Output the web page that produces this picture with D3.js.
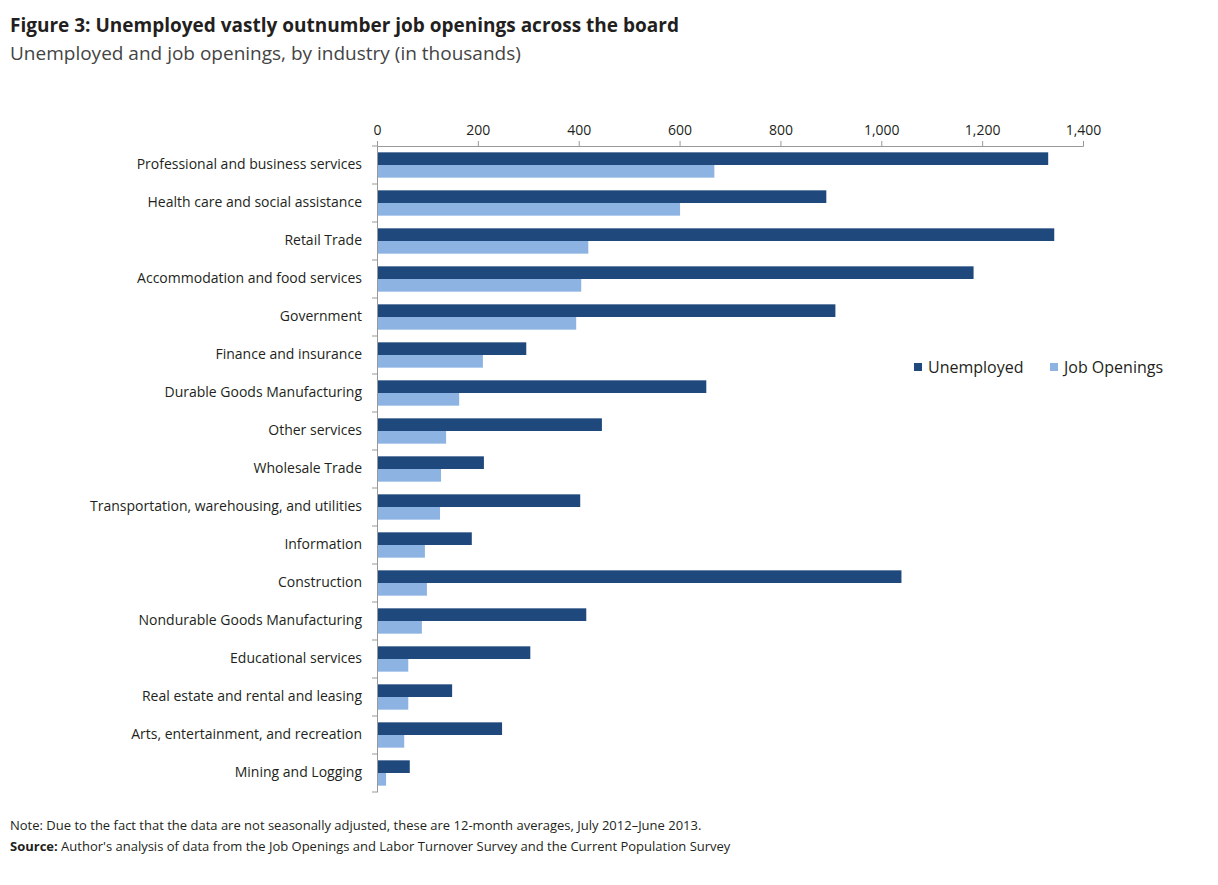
<!DOCTYPE html>
<html>
<head>
<meta charset="utf-8">
<script src="https://cdn.jsdelivr.net/npm/d3@7"></script>
<style>
  body { margin: 0; background: #fff; }
  text { font-family: "Open Sans", "Noto Sans", sans-serif; fill: #231f20; }
</style>
</head>
<body>
<div id="chart"></div>
<script>
var categories = ["Professional and business services", "Health care and social assistance", "Retail Trade",
  "Accommodation and food services", "Government", "Finance and insurance", "Durable Goods Manufacturing",
  "Other services", "Wholesale Trade", "Transportation, warehousing, and utilities", "Information",
  "Construction", "Nondurable Goods Manufacturing", "Educational services", "Real estate and rental and leasing",
  "Arts, entertainment, and recreation", "Mining and Logging"];
var unemployed = [1331, 891, 1343, 1183, 909, 296, 653, 446, 212, 403, 188, 1040, 415, 304, 149, 248, 65];
var openings = [669, 601, 419, 405, 395, 210, 163, 137, 127, 125, 95, 99, 89, 62, 62, 54, 18];
var ticks = [0, 200, 400, 600, 800, 1000, 1200, 1400];
var series = [
  { name: "Unemployed", values: unemployed, color: "#1f497d" },
  { name: "Job Openings", values: openings, color: "#8db3e2" }
];

var svg = d3.select("#chart").append("svg")
  .attr("width", 1218)
  .attr("height", 885);

svg.append("text").attr("x", 10).attr("y", 32)
  .style("font-size", "19px").style("font-weight", "bold")
  .text("Figure 3: Unemployed vastly outnumber job openings across the board");
svg.append("text").attr("x", 10).attr("y", 60)
  .style("font-size", "19px").style("fill", "#444")
  .text("Unemployed and job openings, by industry (in thousands)");

var x = d3.scaleLinear().domain([0, 1400]).range([377, 1083]);
var y = d3.scaleBand().domain(categories).range([146, 792]);
var inner = d3.scaleBand().domain(series.map(function(s){ return s.name; }))
  .range([0, y.bandwidth()]).paddingOuter(0.5).paddingInner(0);

series.forEach(function(s){
  svg.append("g").selectAll("rect")
    .data(s.values)
    .enter().append("rect")
    .attr("x", x(0))
    .attr("y", function(d, i){ return y(categories[i]) + inner(s.name); })
    .attr("width", function(d){ return x(d) - x(0); })
    .attr("height", inner.bandwidth())
    .attr("fill", s.color);
});

var xaxis = svg.append("g")
  .attr("transform", "translate(0,146)")
  .call(d3.axisTop(x).tickValues(ticks).tickSize(5).tickSizeOuter(5));
xaxis.select(".domain").attr("stroke", "#999");
xaxis.selectAll(".tick line").attr("stroke", "#999");
xaxis.selectAll(".tick text").style("font-size", "14px").attr("dy", "-3px");

var yaxis = svg.append("g")
  .attr("transform", "translate(377,0)")
  .call(d3.axisLeft(y).tickSize(0).tickPadding(15));
yaxis.select(".domain").attr("stroke", "#999");
yaxis.selectAll(".tick text").style("font-size", "14px");
svg.append("g").selectAll("line")
  .data(d3.range(categories.length + 1))
  .enter().append("line")
  .attr("x1", 372).attr("x2", 377)
  .attr("y1", function(i){ return 146 + i * y.step(); })
  .attr("y2", function(i){ return 146 + i * y.step(); })
  .attr("stroke", "#999");

var legend = svg.append("g").attr("transform", "translate(914,367)");
var lx = [0, 136];
series.forEach(function(s, i){
  legend.append("rect").attr("x", lx[i]).attr("y", -4).attr("width", 8).attr("height", 8).attr("fill", s.color);
  legend.append("text").attr("x", lx[i] + 14).attr("y", 6).style("font-size", "16px").text(s.name);
});

svg.append("text").attr("x", 10).attr("y", 830).style("font-size", "13px")
  .text("Note: Due to the fact that the data are not seasonally adjusted, these are 12-month averages, July 2012\u2013June 2013.");
var src = svg.append("text").attr("x", 10).attr("y", 851).style("font-size", "13px");
src.append("tspan").style("font-weight", "bold").text("Source: ");
src.append("tspan").text("Author's analysis of data from the Job Openings and Labor Turnover Survey and the Current Population Survey");
</script>
</body>
</html>
